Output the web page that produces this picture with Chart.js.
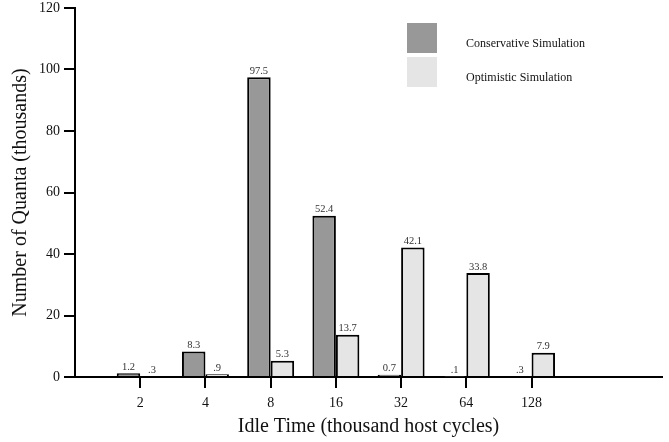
<!DOCTYPE html>
<html>
<head>
<meta charset="utf-8">
<script src="https://cdn.jsdelivr.net/npm/chart.js@4.4.1/dist/chart.umd.min.js"></script>
<style>
  html, body { margin: 0; padding: 0; background: #fff; overflow: hidden; }
</style>
</head>
<body>
<canvas id="myChart" width="669" height="442"></canvas>
<script>
const categories = ['2', '4', '8', '16', '32', '64', '128'];
const conservative = [1.2, 8.3, 97.5, 52.4, 0.7, 0.1, 0.3];
const optimistic = [0.3, 0.9, 5.3, 13.7, 42.1, 33.8, 7.9];
const conservativeText = ['1.2', '8.3', '97.5', '52.4', '0.7', '.1', '.3'];
const optimisticText = ['.3', '.9', '5.3', '13.7', '42.1', '33.8', '7.9'];
const yTicks = [0, 20, 40, 60, 80, 100, 120];

const serif = '"Liberation Serif", "DejaVu Serif", serif';

// empty slot before the first group and two after the last, like the original axis
const labels = [''].concat(categories, ['', '']);
const pad = arr => [null].concat(arr, [null, null]);

const barText = {
    id: 'barText',
    afterDatasetsDraw(chart) {
        const c = chart.ctx;
        const texts = [conservativeText, optimisticText];
        c.save();
        c.font = '10.5px ' + serif;
        c.fillStyle = '#333';
        c.textAlign = 'center';
        c.textBaseline = 'bottom';
        chart.data.datasets.forEach((ds, d) => {
            chart.getDatasetMeta(d).data.forEach((el, i) => {
                if (ds.data[i] == null) return;
                c.fillText(texts[d][i - 1], el.x, el.y - 1);
            });
        });
        c.restore();
    }
};

const boxLegend = {
    id: 'boxLegend',
    afterDraw(chart) {
        const c = chart.ctx;
        const x0 = chart.chartArea.left + 332;
        let y0 = 23;
        c.save();
        c.font = '12px ' + serif;
        c.textBaseline = 'middle';
        chart.data.datasets.forEach(ds => {
            c.fillStyle = ds.backgroundColor;
            c.fillRect(x0, y0, 30, 30);
            c.fillStyle = '#111';
            c.fillText(ds.label, x0 + 59, y0 + 21);
            y0 += 34;
        });
        c.restore();
    }
};

new Chart(document.getElementById('myChart'), {
    type: 'bar',
    data: {
        labels: labels,
        datasets: [
            {
                label: 'Conservative Simulation',
                data: pad(conservative),
                backgroundColor: '#989898',
                borderColor: '#000',
                borderWidth: 2,
                borderSkipped: 'bottom'
            },
            {
                label: 'Optimistic Simulation',
                data: pad(optimistic),
                backgroundColor: '#e5e5e5',
                borderColor: '#000',
                borderWidth: 2,
                borderSkipped: 'bottom'
            }
        ]
    },
    options: {
        responsive: false,
        animation: false,
        devicePixelRatio: 1,
        layout: { padding: { top: 8, right: 7 } },
        datasets: {
            bar: { categoryPercentage: 0.72, barPercentage: 1 }
        },
        plugins: {
            legend: { display: false },
            tooltip: { enabled: false }
        },
        scales: {
            x: {
                offset: false,
                grid: {
                    offset: false,
                    drawOnChartArea: false,
                    color: '#000',
                    lineWidth: 2,
                    tickLength: 11
                },
                border: { color: '#000', width: 2 },
                ticks: {
                    color: '#111',
                    font: { family: serif, size: 14 },
                    maxRotation: 0,
                    autoSkip: false,
                    padding: 7
                },
                title: {
                    display: true,
                    text: 'Idle Time (thousand host cycles)',
                    color: '#111',
                    font: { family: serif, size: 20 },
                    padding: { top: 4, bottom: 3 }
                },
                afterBuildTicks(scale) {
                    scale.ticks = scale.ticks.filter(t => labels[t.value] !== '');
                },
                afterFit(scale) { scale.height = 65; }
            },
            y: {
                min: 0,
                max: 120,
                afterBuildTicks(scale) {
                    scale.ticks = yTicks.map(v => ({ value: v }));
                },
                grid: {
                    drawOnChartArea: false,
                    color: '#000',
                    lineWidth: 2,
                    tickLength: 11
                },
                border: { color: '#000', width: 2 },
                ticks: {
                    color: '#111',
                    font: { family: serif, size: 14 },
                    padding: 4
                },
                title: {
                    display: true,
                    text: 'Number of Quanta (thousands)',
                    color: '#111',
                    font: { family: serif, size: 20 },
                    padding: { top: 9, bottom: 0 }
                },
                afterFit(scale) {
                    scale.width = 75;
                    scale.paddingTop = 0;
                }
            }
        }
    },
    plugins: [barText, boxLegend]
});
</script>
</body>
</html>
